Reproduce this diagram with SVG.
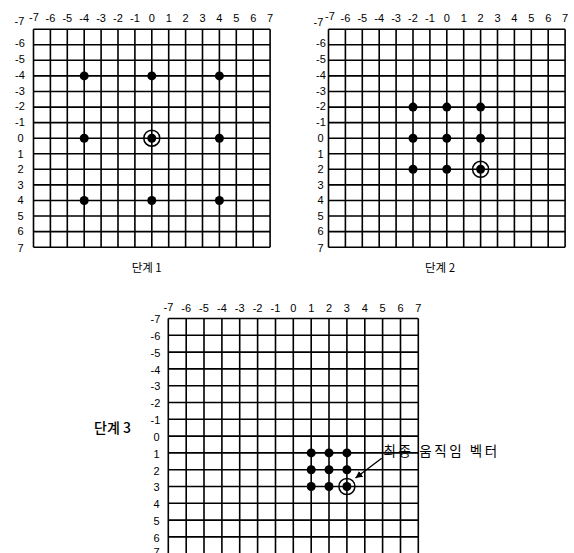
<svg xmlns="http://www.w3.org/2000/svg" width="574" height="553" viewBox="0 0 574 553">
<style>
.grid{fill:none;stroke:#000;stroke-width:1.6}
.lbl{font-family:"Liberation Sans",Arial,sans-serif;font-size:11px;fill:#000;text-anchor:middle}
.kr{font-family:"Noto Sans CJK KR",sans-serif;fill:#000;text-anchor:middle}
.dot{fill:#000}
.ring{fill:none;stroke:#000;stroke-width:1.5}
.conn{stroke:#000;stroke-width:1.4;fill:none}
</style>
<defs>
<marker id="ah" viewBox="0 0 10 10" refX="10" refY="5" markerWidth="7" markerHeight="7" markerUnits="userSpaceOnUse" orient="auto">
<path d="M0 0L10 5L0 10z" fill="#000"/>
</marker>
</defs>
<rect width="574" height="553" fill="#fff"/>

<g id="grid1">
<path class="grid" d="M33.5 29.2V247.2M50.4 29.2V247.2M67.3 29.2V247.2M84.2 29.2V247.2M101.1 29.2V247.2M118 29.2V247.2M134.9 29.2V247.2M151.8 29.2V247.2M168.7 29.2V247.2M185.6 29.2V247.2M202.5 29.2V247.2M219.4 29.2V247.2M236.3 29.2V247.2M253.2 29.2V247.2M270.1 29.2V247.2M33.5 29.2H270.1M33.5 44.8H270.1M33.5 60.3H270.1M33.5 75.9H270.1M33.5 91.5H270.1M33.5 107.1H270.1M33.5 122.6H270.1M33.5 138.2H270.1M33.5 153.8H270.1M33.5 169.3H270.1M33.5 184.9H270.1M33.5 200.5H270.1M33.5 216H270.1M33.5 231.6H270.1M33.5 247.2H270.1"/>
<g class="lbl">
<text x="34" y="20.5">-7</text><text x="50.4" y="21.5">-6</text><text x="67.3" y="21.5">-5</text><text x="84.2" y="21.5">-4</text><text x="101.1" y="21.5">-3</text><text x="118" y="21.5">-2</text><text x="134.9" y="21.5">-1</text><text x="151.8" y="21.5">0</text><text x="168.7" y="21.5">1</text><text x="185.6" y="21.5">2</text><text x="202.5" y="21.5">3</text><text x="219.4" y="21.5">4</text><text x="236.3" y="21.5">5</text><text x="253.2" y="21.5">6</text><text x="270.1" y="21.5">7</text>
<text x="19.5" y="25">-7</text><text x="20" y="47">-6</text><text x="20" y="62.5">-5</text><text x="20" y="79">-4</text><text x="20" y="94.5">-3</text><text x="20" y="110">-2</text><text x="20" y="125.5">-1</text><text x="20.5" y="142">0</text><text x="20.5" y="157.5">1</text><text x="20.5" y="173">2</text><text x="20.5" y="188.5">3</text><text x="20.5" y="204">4</text><text x="20.5" y="219.5">5</text><text x="20.5" y="235">6</text><text x="20.5" y="252">7</text>
</g>
<text class="kr" x="146.7" y="271.5" font-size="11.5">단계 1</text>
</g>
<g id="points1">
<g id="p1-a"><circle class="dot" cx="84.2" cy="75.9" r="4.5"/></g>
<g id="p1-b"><circle class="dot" cx="151.8" cy="75.9" r="4.5"/></g>
<g id="p1-c"><circle class="dot" cx="219.4" cy="75.9" r="4.5"/></g>
<g id="p1-d"><circle class="dot" cx="84.2" cy="138.2" r="4.5"/></g>
<g id="p1-e"><circle class="dot" cx="151.8" cy="138.2" r="4.5"/><circle class="ring" cx="151.8" cy="138.2" r="8"/></g>
<g id="p1-f"><circle class="dot" cx="219.4" cy="138.2" r="4.5"/></g>
<g id="p1-g"><circle class="dot" cx="84.2" cy="200.5" r="4.5"/></g>
<g id="p1-h"><circle class="dot" cx="151.8" cy="200.5" r="4.5"/></g>
<g id="p1-i"><circle class="dot" cx="219.4" cy="200.5" r="4.5"/></g>
</g>

<g id="grid2">
<path class="grid" d="M328.5 29.2V247.2M345.4 29.2V247.2M362.3 29.2V247.2M379.2 29.2V247.2M396.1 29.2V247.2M413 29.2V247.2M429.9 29.2V247.2M446.8 29.2V247.2M463.7 29.2V247.2M480.6 29.2V247.2M497.5 29.2V247.2M514.4 29.2V247.2M531.3 29.2V247.2M548.2 29.2V247.2M565.1 29.2V247.2M328.5 29.2H565.1M328.5 44.8H565.1M328.5 60.3H565.1M328.5 75.9H565.1M328.5 91.5H565.1M328.5 107.1H565.1M328.5 122.6H565.1M328.5 138.2H565.1M328.5 153.8H565.1M328.5 169.3H565.1M328.5 184.9H565.1M328.5 200.5H565.1M328.5 216H565.1M328.5 231.6H565.1M328.5 247.2H565.1"/>
<g class="lbl">
<text x="330" y="20">-7</text><text x="345.4" y="21.5">-6</text><text x="362.3" y="21.5">-5</text><text x="379.2" y="21.5">-4</text><text x="396.1" y="21.5">-3</text><text x="413" y="21.5">-2</text><text x="429.9" y="21.5">-1</text><text x="446.8" y="21.5">0</text><text x="463.7" y="21.5">1</text><text x="480.6" y="21.5">2</text><text x="497.5" y="21.5">3</text><text x="514.4" y="21.5">4</text><text x="531.3" y="21.5">5</text><text x="548.2" y="21.5">6</text><text x="565.1" y="21.5">7</text>
<text x="318.5" y="26">-7</text><text x="321" y="47">-6</text><text x="321" y="62.5">-5</text><text x="321" y="79">-4</text><text x="321" y="94.5">-3</text><text x="321" y="110">-2</text><text x="321" y="125.5">-1</text><text x="320.5" y="142">0</text><text x="320.5" y="157.5">1</text><text x="320.5" y="173">2</text><text x="320.5" y="188.5">3</text><text x="320.5" y="204">4</text><text x="320.5" y="219.5">5</text><text x="320.5" y="235">6</text><text x="320.5" y="252">7</text>
</g>
<text class="kr" x="440" y="271.5" font-size="11.5">단계 2</text>
</g>
<g id="points2">
<g id="p2-a"><circle class="dot" cx="413" cy="107.1" r="4.5"/></g>
<g id="p2-b"><circle class="dot" cx="446.8" cy="107.1" r="4.5"/></g>
<g id="p2-c"><circle class="dot" cx="480.6" cy="107.1" r="4.5"/></g>
<g id="p2-d"><circle class="dot" cx="413" cy="138.2" r="4.5"/></g>
<g id="p2-e"><circle class="dot" cx="446.8" cy="138.2" r="4.5"/></g>
<g id="p2-f"><circle class="dot" cx="480.6" cy="138.2" r="4.5"/></g>
<g id="p2-g"><circle class="dot" cx="413" cy="169.3" r="4.5"/></g>
<g id="p2-h"><circle class="dot" cx="446.8" cy="169.3" r="4.5"/></g>
<g id="p2-i"><circle class="dot" cx="480.6" cy="169.3" r="4.5"/><circle class="ring" cx="480.6" cy="169.3" r="8"/></g>
</g>

<g id="grid3">
<path class="grid" d="M168.3 318.5V553.7M186.2 318.5V553.7M204 318.5V553.7M221.9 318.5V553.7M239.7 318.5V553.7M257.6 318.5V553.7M275.5 318.5V553.7M293.3 318.5V553.7M311.2 318.5V553.7M329 318.5V553.7M346.9 318.5V553.7M364.8 318.5V553.7M382.6 318.5V553.7M400.5 318.5V553.7M418.3 318.5V553.7M168.3 318.5H418.3M168.3 335.3H418.3M168.3 352.1H418.3M168.3 368.9H418.3M168.3 385.7H418.3M168.3 402.5H418.3M168.3 419.3H418.3M168.3 436.1H418.3M168.3 452.9H418.3M168.3 469.7H418.3M168.3 486.5H418.3M168.3 503.3H418.3M168.3 520.1H418.3M168.3 536.9H418.3M168.3 553.7H418.3"/>
<g class="lbl">
<text x="168.5" y="310.5">-7</text><text x="186.2" y="312">-6</text><text x="204" y="312">-5</text><text x="221.9" y="312">-4</text><text x="239.7" y="312">-3</text><text x="257.6" y="312">-2</text><text x="275.5" y="312">-1</text><text x="293.3" y="312">0</text><text x="311.2" y="312">1</text><text x="329" y="312">2</text><text x="346.9" y="312">3</text><text x="364.8" y="312">4</text><text x="382.6" y="312">5</text><text x="400.5" y="312">6</text><text x="418.3" y="312">7</text>
<text x="155.5" y="323">-7</text><text x="155.5" y="340">-6</text><text x="155.5" y="356.5">-5</text><text x="155.5" y="373.5">-4</text><text x="155.5" y="390">-3</text><text x="155.5" y="407">-2</text><text x="155.5" y="424">-1</text><text x="156.5" y="441">0</text><text x="156.5" y="457.5">1</text><text x="156.5" y="474.5">2</text><text x="156.5" y="491">3</text><text x="156.5" y="508">4</text><text x="156.5" y="525">5</text><text x="156.5" y="542">6</text><text x="156.5" y="556">7</text>
</g>
<text class="kr" x="112.5" y="433" font-size="14" font-weight="500">단계 3</text>
</g>
<g id="points3">
<g id="p3-a"><circle class="dot" cx="311.2" cy="452.9" r="4.5"/></g>
<g id="p3-b"><circle class="dot" cx="329" cy="452.9" r="4.5"/></g>
<g id="p3-c"><circle class="dot" cx="346.9" cy="452.9" r="4.5"/></g>
<g id="p3-d"><circle class="dot" cx="311.2" cy="469.7" r="4.5"/></g>
<g id="p3-e"><circle class="dot" cx="329" cy="469.7" r="4.5"/></g>
<g id="p3-f"><circle class="dot" cx="346.9" cy="469.7" r="4.5"/></g>
<g id="p3-g"><circle class="dot" cx="311.2" cy="486.5" r="4.5"/></g>
<g id="p3-h"><circle class="dot" cx="329" cy="486.5" r="4.5"/></g>
<g id="p3-i"><circle class="dot" cx="346.9" cy="486.5" r="4.5"/><circle class="ring" cx="346.9" cy="486.5" r="8"/></g>
</g>

<g id="label-final">
<text x="383.5" y="456" font-family="'Noto Sans CJK KR',sans-serif" font-size="13.5" letter-spacing="2.6" fill="#000">최종 움직임 벡터</text>
</g>

<g id="connectors">
<line class="conn" x1="381.7" y1="458.3" x2="355.5" y2="478" marker-end="url(#ah)"/>
</g>
</svg>
